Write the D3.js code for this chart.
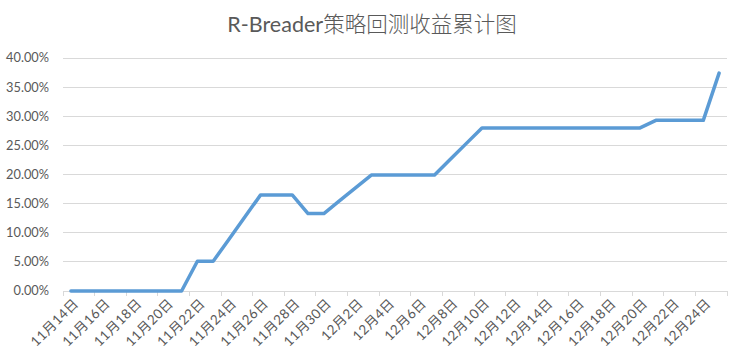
<!DOCTYPE html>
<html>
<head>
<meta charset="utf-8">
<script src="https://cdn.jsdelivr.net/npm/d3@7"></script>
<style>
  body { margin: 0; background: #fff; }
  text { font-family: Lato, "Noto Sans CJK SC", sans-serif; fill: #595959; }
</style>
</head>
<body>
<div id="chart"></div>
<script>
// category labels: one per calendar day
var days = [];
for (var d = 14; d <= 30; d++) days.push('11月' + d + '日');
for (var d = 1; d <= 25; d++) days.push('12月' + d + '日');

// cumulative return (%)
var returns = [
    0, 0, 0, 0, 0, 0, 0, 0,          // 11/14 - 11/21
    5.1, 5.1, 8.9, 12.7, 16.5, 16.5, 16.5, 13.3, 13.3,   // 11/22 - 11/30
    15.5, 17.7, 19.9, 19.9, 19.9, 19.9, 19.9,            // 12/1 - 12/7
    22.6, 25.3, 28.0, 28.0, 28.0, 28.0, 28.0, 28.0, 28.0, 28.0, 28.0, 28.0, 28.0, // 12/8 - 12/20
    29.3, 29.3, 29.3, 29.3, 37.4     // 12/21 - 12/25
];

var yTicks = [0, 5, 10, 15, 20, 25, 30, 35, 40];

var svgWidth = 747;
var svgHeight = 362;
var margin = { top: 58, right: 20, bottom: 71, left: 63 };
var chartWidth = 727 - margin.left;
var chartHeight = 291 - margin.top;

var svg = d3.select('#chart')
    .append('svg')
    .attr('width', svgWidth)
    .attr('height', svgHeight);

var chartGroup = svg.append('g')
    .attr('transform', `translate(${margin.left}, ${margin.top})`);

var x = d3.scaleBand()
    .domain(days)
    .range([0, chartWidth]);

var y = d3.scaleLinear()
    .domain([0, 40])
    .range([chartHeight, 0]);

// gridlines
chartGroup.append('g')
    .selectAll('line')
    .data(yTicks.filter(t => t > 0))
    .enter()
    .append('line')
    .attr('x1', 0)
    .attr('x2', chartWidth)
    .attr('y1', d => y(d))
    .attr('y2', d => y(d))
    .attr('stroke', '#d9d9d9')
    .attr('stroke-width', 1)
    .attr('shape-rendering', 'crispEdges');

// y labels
chartGroup.append('g')
    .selectAll('text')
    .data(yTicks)
    .enter()
    .append('text')
    .attr('x', -14)
    .attr('y', d => y(d))
    .attr('dy', '0.35em')
    .attr('text-anchor', 'end')
    .style('font-size', '12.8px')
    .text(d => d.toFixed(2) + '%');

// x axis line and ticks between every 2 categories
var xAxis = chartGroup.append('g')
    .attr('transform', `translate(0, ${chartHeight})`);

xAxis.append('line')
    .attr('x1', 0)
    .attr('x2', chartWidth)
    .attr('stroke', '#d9d9d9')
    .attr('shape-rendering', 'crispEdges');

var tickIdx = d3.range(0, days.length + 1, 2);
xAxis.selectAll('.tick')
    .data(tickIdx)
    .enter()
    .append('line')
    .attr('class', 'tick')
    .attr('x1', i => i * x.bandwidth())
    .attr('x2', i => i * x.bandwidth())
    .attr('y1', 0)
    .attr('y2', 5)
    .attr('stroke', '#d9d9d9')
    .attr('shape-rendering', 'crispEdges');

xAxis.selectAll('.xlabel')
    .data(days.filter((d, i) => i % 2 === 0 && i < 41))
    .enter()
    .append('text')
    .attr('class', 'xlabel')
    .attr('text-anchor', 'end')
    .attr('transform', d => `translate(${x(d) + x.bandwidth() / 2 + 5}, 10) rotate(-45)`)
    .attr('dy', '0.35em')
    .style('font-size', '13.5px')
    .style('letter-spacing', '0.4px')
    .text(d => d);

// line
var line = d3.line()
    .x((d, i) => x(days[i]) + x.bandwidth() / 2)
    .y(d => y(d));

chartGroup.append('path')
    .datum(returns)
    .attr('d', line)
    .attr('fill', 'none')
    .attr('stroke', '#5b9bd5')
    .attr('stroke-width', 3.5)
    .attr('stroke-linejoin', 'round')
    .attr('stroke-linecap', 'round');

// title: latin part regular, CJK part light
var title = svg.append('text')
    .attr('x', 372)
    .attr('y', 32)
    .attr('text-anchor', 'middle')
    .style('font-size', '21.5px');
title.append('tspan').text('R-Breader');
title.append('tspan').style('font-weight', 300).text('策略回测收益累计图');
</script>
</body>
</html>
